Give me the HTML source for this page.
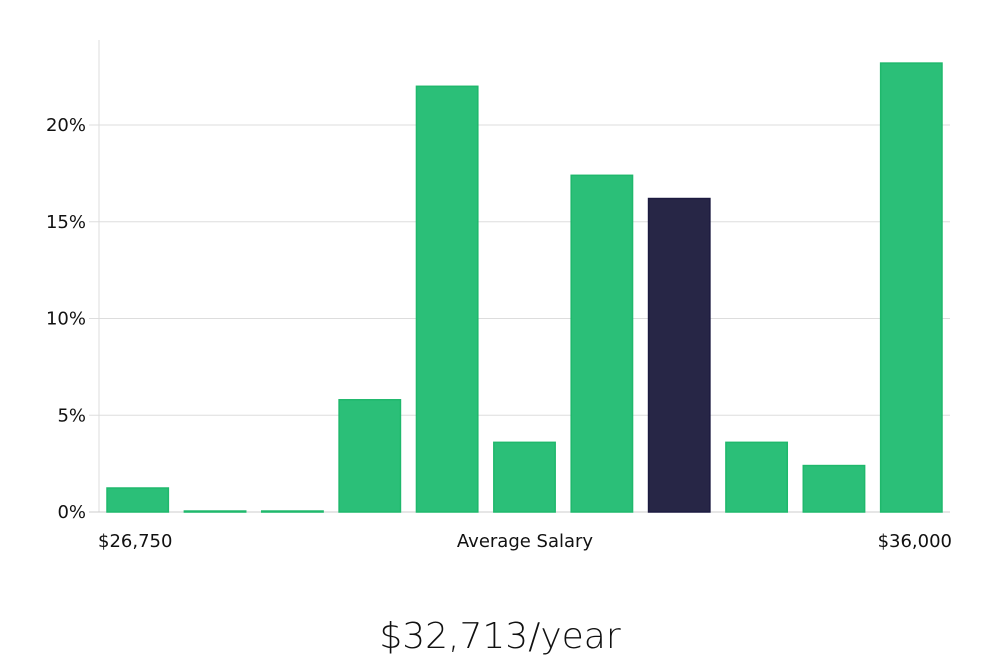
<!DOCTYPE html>
<html><head><meta charset="utf-8"><style>
body{margin:0;background:#fff;width:1000px;height:660px;overflow:hidden}
svg{display:block}
.t{font-family:"DejaVu Sans","Liberation Sans",sans-serif;font-size:18px;fill:#111}
</style></head><body>
<svg id="chart" width="1000" height="660">
<g id="grid"></g><g id="bars"></g><g id="labels"></g>
<text class="t" x="98" y="547">$26,750</text>
<text class="t" x="525" y="547" text-anchor="middle">Average Salary</text>
<text class="t" x="952" y="547" text-anchor="end">$36,000</text>
<text x="500" y="648" text-anchor="middle" style="font-family:'DejaVu Sans','Liberation Sans',sans-serif;font-size:36px;font-weight:300;fill:#111">$32,713/year</text>
</svg>
<script>
const categories=["b1","b2","b3","b4","b5","b6","b7","b8","b9","b10","b11"];
const values=[1.24,0.05,0.05,5.8,22.0,3.6,17.4,16.2,3.6,2.4,23.2];
const highlight=[0,0,0,0,0,0,0,1,0,0,0];
const ticks=[0,5,10,15,20];
const tickLabels=["0%","5%","10%","15%","20%"];
const NS="http://www.w3.org/2000/svg";
const x0=99,x1=950,y0=512,pxPer=19.35;
const y=v=>y0-v*pxPer;
const step=(x1-x0)/categories.length;
const xb=i=>x0+i*step+8;
const g=document.getElementById("grid"),b=document.getElementById("bars"),l=document.getElementById("labels");
function mk(t,a,p){const e=document.createElementNS(NS,t);for(const k in a)e.setAttribute(k,a[k]);p.appendChild(e);return e;}
const ax=mk("line",{x1:x0,x2:x0,y1:40,y2:y0,stroke:"#ddd"},g);


ticks.forEach((t,i)=>{
 const ln=mk("line",{x1:x0-10,x2:x1,y1:y(t),y2:y(t),stroke:i==0?"#ccc":"#ddd"},g);
 
 
 const tx=mk("text",{x:86,y:y(t)+6,"text-anchor":"end",class:"t"},l);
 tx.textContent=tickLabels[i];
 
 
});
values.forEach((v,i)=>{
 const h=highlight[i];
 const r=mk("rect",{x:xb(i),y:y(v),width:step-16,height:Math.max(1,v*pxPer),fill:h?"#272646":"#2bbf78",stroke:h?"#1c1a40":"#1fb86c","stroke-width":1.5},b);
 
 
});
</script>
</body></html>
